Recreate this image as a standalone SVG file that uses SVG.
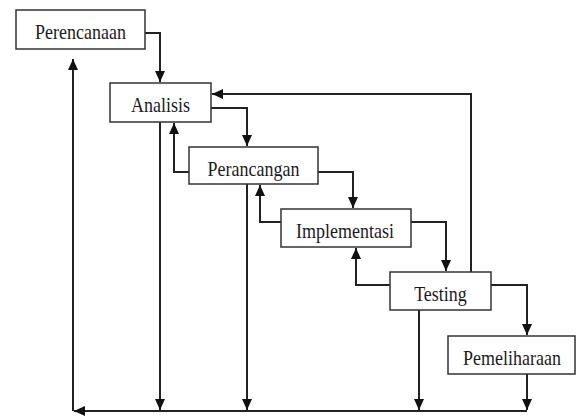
<svg xmlns="http://www.w3.org/2000/svg" width="576" height="418" viewBox="0 0 576 418">
<style>
.box{fill:#fff;stroke:#333;stroke-width:1.5}
.lbl{font-family:"Liberation Serif","Times New Roman",serif;font-size:18px;fill:#1a1a1a;text-anchor:middle}
.c{fill:none;stroke:#222;stroke-width:2}
</style>
<defs>
<marker id="ah" markerUnits="userSpaceOnUse" markerWidth="12" markerHeight="10" refX="11" refY="5" orient="auto">
<path d="M0,0 L11,5 L0,10 Z" fill="#111"/>
</marker>
</defs>
<rect width="576" height="418" fill="#fff"/>
<g id="connectors">
<path class="c" d="M145,33 H160 V82" marker-end="url(#ah)"/>
<path class="c" d="M211,108 H247 V146" marker-end="url(#ah)"/>
<path class="c" d="M318,172 H353 V208" marker-end="url(#ah)"/>
<path class="c" d="M411,222 H446 V271" marker-end="url(#ah)"/>
<path class="c" d="M491,285 H527 V335" marker-end="url(#ah)"/>
<path class="c" d="M189,172 H174 V123" marker-end="url(#ah)"/>
<path class="c" d="M281,222 H260 V185" marker-end="url(#ah)"/>
<path class="c" d="M390,285 H356 V248" marker-end="url(#ah)"/>
<path class="c" d="M471,272 V94 H212" marker-end="url(#ah)"/>
<path class="c" d="M160,122 V410" marker-end="url(#ah)"/>
<path class="c" d="M247,184 V410" marker-end="url(#ah)"/>
<path class="c" d="M419,310 V410" marker-end="url(#ah)"/>
<path class="c" d="M527,374 V410" marker-end="url(#ah)"/>
<path class="c" d="M527,411 H74" marker-end="url(#ah)"/>
<path class="c" d="M73,411 V59" marker-end="url(#ah)"/>
</g>
<g id="perencanaan"><rect class="box" x="16" y="10" width="129" height="39"/><text class="lbl" transform="translate(80.5,38.5) scale(1,1.12)">Perencanaan</text></g>
<g id="analisis"><rect class="box" x="110" y="83" width="101" height="39"/><text class="lbl" transform="translate(160.5,112) scale(1,1.12)">Analisis</text></g>
<g id="perancangan"><rect class="box" x="189" y="147" width="129" height="37"/><text class="lbl" transform="translate(253.5,175.5) scale(1,1.12)">Perancangan</text></g>
<g id="implementasi"><rect class="box" x="281" y="209" width="130" height="38"/><text class="lbl" transform="translate(345,237.5) scale(1,1.12)">Implementasi</text></g>
<g id="testing"><rect class="box" x="390" y="272" width="101" height="38"/><text class="lbl" transform="translate(440.5,300.5) scale(1,1.12)">Testing</text></g>
<g id="pemeliharaan"><rect class="box" x="448" y="336" width="127" height="38"/><text class="lbl" transform="translate(512,364.5) scale(1,1.12)">Pemeliharaan</text></g>
</svg>
